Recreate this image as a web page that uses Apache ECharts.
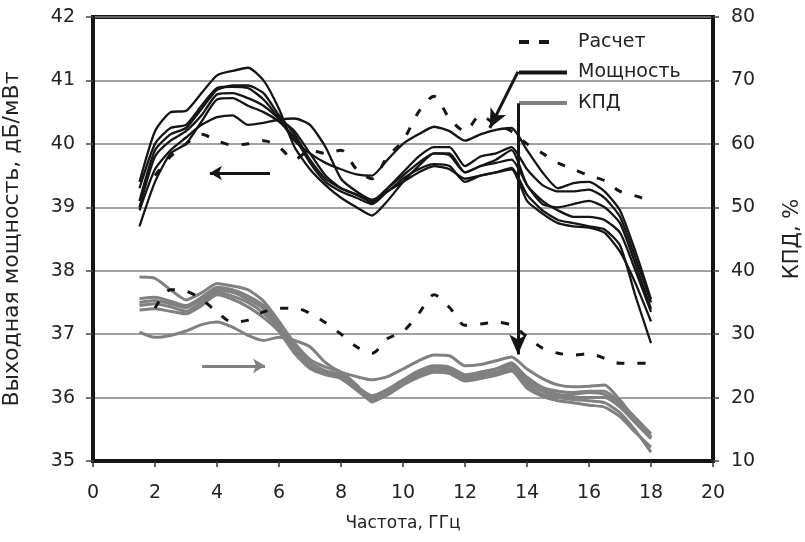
<!DOCTYPE html>
<html>
<head>
<meta charset="utf-8">
<script src="https://cdn.jsdelivr.net/npm/echarts@6/dist/echarts.min.js"></script>
<style>
html,body{margin:0;padding:0;background:#fff;}
#chart{width:805px;height:542px;}
</style>
</head>
<body>
<div id="chart"></div>
<script>
// Frequency, GHz
var freq = [1.5,2,2.5,3,3.5,4,4.5,5,5.5,6,6.5,7,7.5,8,8.5,9,9.5,10,10.5,11,11.5,12,12.5,13,13.5,14,14.5,15,15.5,16,16.5,17,17.5,18];

// Output power, dBm (measured, 6 samples)
var power1 = [39.4,40.2,40.5,40.52,40.8,41.08,41.15,41.2,41.0,40.55,39.95,39.6,39.35,39.15,39.0,38.87,39.1,39.4,39.65,39.85,39.85,39.55,39.65,39.75,39.9,39.35,39.1,38.95,38.85,38.85,38.8,38.6,38.0,37.35];
var power2 = [38.95,39.6,39.9,40.1,40.3,40.42,40.45,40.3,40.33,40.38,40.4,40.3,39.95,39.45,39.25,39.12,39.25,39.45,39.6,39.68,39.65,39.4,39.5,39.55,39.62,39.2,38.95,38.8,38.75,38.7,38.65,38.4,37.6,36.86];
var power3 = [39.3,40.0,40.25,40.3,40.6,40.88,40.9,40.88,40.7,40.4,40.05,39.85,39.7,39.6,39.52,39.5,39.75,40.0,40.15,40.27,40.2,40.05,40.15,40.22,40.25,39.9,39.55,39.3,39.38,39.4,39.25,38.95,38.3,37.55];
var power4 = [39.1,39.9,40.15,40.25,40.55,40.85,40.92,40.92,40.8,40.45,40.15,39.75,39.45,39.3,39.2,39.1,39.3,39.55,39.8,39.95,39.95,39.65,39.8,39.85,39.95,39.6,39.35,39.25,39.25,39.28,39.15,38.85,38.2,37.5];
var power5 = [39.0,39.8,40.05,40.2,40.45,40.78,40.8,40.72,40.6,40.4,40.2,39.85,39.5,39.3,39.2,39.08,39.3,39.5,39.7,39.85,39.82,39.55,39.65,39.7,39.75,39.35,39.05,39.0,39.05,39.1,39.0,38.75,38.1,37.4];
var power6 = [38.7,39.4,39.85,40.0,40.35,40.7,40.72,40.6,40.5,40.35,40.1,39.7,39.4,39.25,39.15,39.05,39.25,39.4,39.55,39.65,39.6,39.45,39.5,39.55,39.6,39.1,38.9,38.75,38.7,38.68,38.6,38.3,37.8,37.2];

// Efficiency, % (measured, 6 samples)
var eff1 = [39.0,38.8,37.0,35.4,36.5,38.0,37.6,37.0,35.2,32.0,28.6,26.0,24.8,24.0,22.0,19.3,20.5,22.0,23.5,24.8,24.5,23.5,24.0,24.5,25.5,23.0,21.5,20.5,20.0,20.0,20.0,18.5,16.0,13.5];
var eff2 = [35.6,35.8,35.2,34.5,35.8,37.4,37.0,36.0,34.5,31.5,28.0,25.0,23.8,23.3,21.5,20.0,21.0,22.5,23.8,24.5,24.3,23.2,23.6,24.0,25.0,22.5,21.0,20.4,20.5,20.8,20.5,18.8,16.3,13.8];
var eff3 = [35.0,35.3,34.8,34.2,35.5,37.0,36.6,35.5,34.0,31.2,28.3,25.5,24.2,23.6,21.8,20.3,21.3,22.8,24.2,25.0,24.8,23.6,24.0,24.5,25.2,23.2,21.6,21.0,20.8,21.0,21.0,19.2,16.8,14.3];
var eff4 = [34.5,34.8,34.3,33.6,35.0,36.6,36.0,35.0,33.3,30.8,27.5,25.0,24.0,23.4,21.6,19.8,20.6,22.2,23.4,24.2,24.0,23.0,23.4,23.8,24.6,22.0,20.5,20.0,19.7,19.5,19.2,17.6,14.8,11.4];
var eff5 = [33.8,34.0,33.6,33.2,34.5,36.2,35.5,34.3,32.6,30.4,27.0,24.6,23.6,23.0,21.2,19.5,20.4,22.0,23.2,24.0,23.8,22.6,23.0,23.5,24.2,21.5,20.2,19.5,19.2,18.8,18.5,17.0,14.5,12.2];
var eff6 = [30.3,29.5,29.8,30.5,31.5,31.9,31.1,29.8,29.0,29.5,29.0,28.0,25.5,24.0,23.3,22.8,23.3,24.5,25.8,26.7,26.6,25.0,25.2,25.8,26.4,24.5,23.0,22.0,21.7,21.8,22.0,19.6,16.5,13.8];

// Calculation (dashed)
var calcFreq = [2,2.5,3,3.5,4,4.5,5,5.5,6,6.5,7,7.5,8,8.5,9,9.5,10,10.5,11,11.5,12,12.5,13,13.5,14,14.5,15,15.5,16,16.5,17,17.5,18];
var calcPower = [39.5,39.8,40.0,40.15,40.05,39.98,40.0,40.05,39.95,39.75,39.9,39.85,39.9,39.6,39.45,39.8,40.05,40.5,40.75,40.4,40.2,40.45,40.3,40.2,40.0,39.85,39.7,39.6,39.5,39.42,39.25,39.18,39.1];
var calcEff = [34.1,37.0,36.8,35.5,33.5,31.9,32.2,33.5,34.1,34.1,33.3,31.8,30.0,28.0,27.0,29.3,30.4,33.2,36.2,34.2,31.4,31.6,31.9,31.4,29.6,27.8,27.0,26.7,26.9,26.2,25.4,25.4,25.4];

// Axis ticks
var xTicks = {min: 0, max: 20, interval: 2};
var leftTicks = {min: 35, max: 42, interval: 1};
var rightTicks = {min: 10, max: 80, interval: 10};

// Annotation arrows (data units: [GHz, dBm])
var arrowPowerLegend = [[13.71, 41.14], [12.8, 40.25]];
var arrowEffLegend = [[13.71, 40.64], [13.71, 36.68]];
var arrowPowerAxis = [[5.71, 39.54], [3.77, 39.54]];
var arrowEffAxis = [[3.52, 25.0], [5.55, 25.0]];   // [GHz, %]

function pairs(xs, ys){ return xs.map(function(x,i){ return [x, ys[i]]; }); }

var FONT = 'DejaVu Sans';
var BLACK = '#151515';
var GRAY = '#808080';
var TEXT = '#222';

var series = [];
[eff1,eff2,eff3,eff4,eff5,eff6].forEach(function(e){
  series.push({name:'КПД', type:'line', yAxisIndex:1, data:pairs(freq,e), showSymbol:false, symbol:'none', smooth:0.2,
    lineStyle:{color:GRAY, width:3}, itemStyle:{color:GRAY}, z:2});
});
[power1,power2,power3,power4,power5,power6].forEach(function(p){
  series.push({name:'Мощность', type:'line', yAxisIndex:0, data:pairs(freq,p), showSymbol:false, symbol:'none', smooth:0.2,
    lineStyle:{color:BLACK, width:2.3}, itemStyle:{color:BLACK}, z:3});
});
series.push({name:'Расчет', type:'line', yAxisIndex:0, data:pairs(calcFreq,calcPower), showSymbol:false, symbol:'none', smooth:0.3,
  lineStyle:{color:BLACK, width:3, type:[8,13]}, itemStyle:{color:BLACK}, z:4,
  markLine:{silent:true, symbol:['none','arrow'], label:{show:false}, animation:false,
    data:[
      [{coord:arrowPowerLegend[0], symbolSize:0}, {coord:arrowPowerLegend[1], symbolSize:[13,19]}],
      [{coord:arrowEffLegend[0], symbolSize:0}, {coord:arrowEffLegend[1], symbolSize:[13,20]}],
      [{coord:arrowPowerAxis[0], symbolSize:0}, {coord:arrowPowerAxis[1], symbolSize:[11,12]}]
    ],
    lineStyle:{color:BLACK, width:3, type:'solid'}
  }
});
series.push({name:'Расчет', type:'line', yAxisIndex:1, data:pairs(calcFreq,calcEff), showSymbol:false, symbol:'none', smooth:0.3,
  lineStyle:{color:BLACK, width:3, type:[8,13]}, itemStyle:{color:BLACK}, z:4,
  markLine:{silent:true, symbol:['none','arrow'], label:{show:false}, animation:false,
    data:[
      [{coord:arrowEffAxis[0], symbolSize:0}, {coord:arrowEffAxis[1], symbolSize:[11,12]}]
    ],
    lineStyle:{color:GRAY, width:3, type:'solid'}
  }
});

var hiddenSym = {color:'transparent', borderColor:'transparent', borderWidth:0, opacity:0};

var chart = echarts.init(document.getElementById('chart'), null, {renderer:'canvas'});
chart.setOption({
  animation:false,
  backgroundColor:'#fff',
  textStyle:{fontFamily:FONT},
  grid:{left:93, right:92, top:17, bottom:81, outerBoundsMode:'none', containLabel:false,
    show:true, borderColor:BLACK, borderWidth:4, backgroundColor:'transparent'},
  legend:{
    orient:'vertical', left:517, top:32, padding:0, itemWidth:48, itemHeight:14, itemGap:10.5, selectedMode:false,
    itemStyle:hiddenSym,
    textStyle:{fontFamily:FONT, fontSize:19, color:TEXT, lineHeight:20, padding:[0,0,0,6]},
    data:[
      {name:'Расчет', itemStyle:hiddenSym, lineStyle:{type:[10,10,10,100], width:4, color:BLACK}},
      {name:'Мощность', itemStyle:hiddenSym, lineStyle:{width:4, color:BLACK}},
      {name:'КПД', itemStyle:hiddenSym, lineStyle:{width:4, color:GRAY}}
    ]
  },
  xAxis:{
    type:'value', min:xTicks.min, max:xTicks.max, interval:xTicks.interval,
    name:'Частота, ГГц', nameLocation:'middle', nameGap:54,
    nameTextStyle:{fontFamily:FONT, fontSize:17, color:TEXT},
    axisLine:{lineStyle:{color:BLACK, width:4}},
    axisTick:{show:true, inside:false, length:6, lineStyle:{color:'#333', width:1.5}},
    axisLabel:{fontFamily:FONT, fontSize:19, color:TEXT, margin:23},
    splitLine:{show:false}
  },
  yAxis:[{
    type:'value', position:'left', min:leftTicks.min, max:leftTicks.max, interval:leftTicks.interval,
    name:'Выходная мощность, дБ/мВт', nameLocation:'middle', nameGap:70, nameRotate:90,
    nameTextStyle:{fontFamily:FONT, fontSize:22, color:TEXT},
    axisLine:{show:true, lineStyle:{color:BLACK, width:4}},
    axisTick:{show:true, inside:false, length:7, lineStyle:{color:'#444', width:1.5}},
    axisLabel:{fontFamily:FONT, fontSize:19, color:TEXT, margin:18},
    splitLine:{show:true, lineStyle:{color:'#808080', width:1.6}}
  },{
    type:'value', position:'right', min:rightTicks.min, max:rightTicks.max, interval:rightTicks.interval,
    name:'КПД, %', nameLocation:'middle', nameGap:69, nameRotate:90,
    nameTextStyle:{fontFamily:FONT, fontSize:21, color:TEXT},
    axisLine:{show:true, lineStyle:{color:BLACK, width:4}},
    axisTick:{show:true, inside:false, length:6, lineStyle:{color:'#444', width:1.5}},
    axisLabel:{fontFamily:FONT, fontSize:19, color:TEXT, margin:18},
    splitLine:{show:false}
  }],
  series:series
});
</script>
</body>
</html>
